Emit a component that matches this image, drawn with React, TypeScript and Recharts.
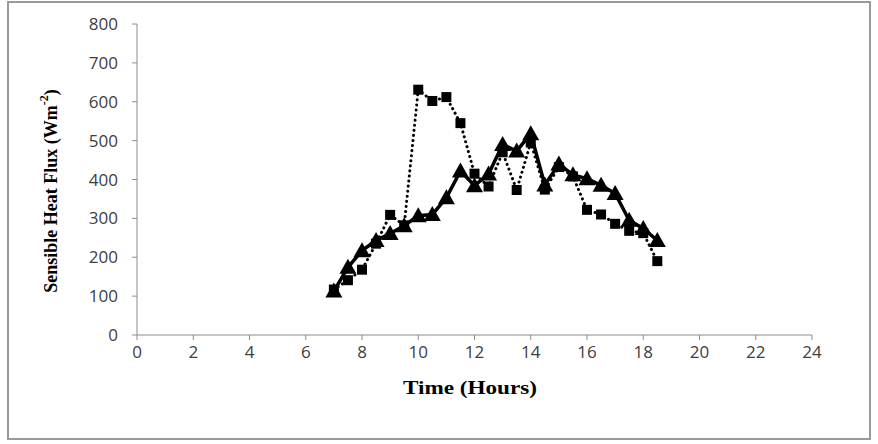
import { LineChart, Line, XAxis, YAxis, Label } from "recharts"

const hours = [7, 7.5, 8, 8.5, 9, 9.5, 10, 10.5, 11, 11.5, 12, 12.5, 13, 13.5, 14, 14.5, 15, 15.5, 16, 16.5, 17, 17.5, 18, 18.5]
const squareSeries = [117, 141, 168, 235, 309, 282, 631, 602, 612, 545, 415, 382, 470, 373, 495, 374, 432, 408, 322, 310, 286, 268, 262, 190]
const triangleSeries = [113, 174, 217, 243, 261, 281, 307, 310, 353, 422, 384, 414, 490, 473, 518, 386, 440, 412, 402, 385, 364, 295, 274, 243]
const xTicks = [0, 2, 4, 6, 8, 10, 12, 14, 16, 18, 20, 22, 24]
const yTicks = [0, 100, 200, 300, 400, 500, 600, 700, 800]

const squareData = hours.map((h, i) => ({ h, v: squareSeries[i] }))
const triangleData = hours.map((h, i) => ({ h, v: triangleSeries[i] }))

const AXIS = "#8c8c8c"
const SERIF = "Liberation Serif, serif"
const tickStyle = { fill: "#404040", fontSize: 17, fontFamily: "Open Sans, sans-serif" }

function SquareDot(props: any) {
    const { cx, cy, index } = props
    return <rect key={`sq-${index}`} x={cx - 5} y={cy - 5} width={10} height={10} fill="#000" />
}

function TriangleDot(props: any) {
    const { cx, cy, index } = props
    return (
        <polygon
            key={`tr-${index}`}
            points={`${cx},${cy - 8.5} ${cx - 8.5},${cy + 6.5} ${cx + 8.5},${cy + 6.5}`}
            fill="#000"
        />
    )
}

function YTitle() {
    const cx = 51
    const cy = 191
    return (
        <text
            x={cx}
            y={cy}
            transform={`rotate(-90 ${cx} ${cy})`}
            textAnchor="middle"
            dominantBaseline="central"
            fontFamily={SERIF}
            fontWeight="bold"
            fontSize={18}
            fill="#000"
        >
            Sensible Heat Flux (Wm
            <tspan dy={-7} fontSize={12}>-2</tspan>
            <tspan dy={7}>)</tspan>
        </text>
    )
}

function XTitle() {
    return (
        <text
            x={470}
            y={388}
            textAnchor="middle"
            dominantBaseline="central"
            fontFamily={SERIF}
            fontWeight="bold"
            fontSize={18}
            textLength={134}
            lengthAdjust="spacingAndGlyphs"
            fill="#000"
        >
            Time (Hours)
        </text>
    )
}

export default function App() {
    return (
        <div style={{ position: "absolute", left: 0, top: 0, width: 878, height: 444, background: "#fff" }}>
            <div
                style={{
                    position: "absolute",
                    left: 7,
                    top: 1,
                    width: 864,
                    height: 439,
                    border: "2px solid #9a9a9a",
                    boxSizing: "border-box",
                }}
            />
            <LineChart
                width={878}
                height={444}
                margin={{ top: 24, right: 66, bottom: 49, left: 77 }}
                style={{ position: "absolute", left: 0, top: 0 }}
            >
                <XAxis
                    type="number"
                    dataKey="h"
                    domain={[0, 24]}
                    ticks={xTicks}
                    allowDataOverflow
                    height={60}
                    stroke={AXIS}
                    tickLine={{ stroke: AXIS }}
                    tickSize={5}
                    tickMargin={6}
                    tick={tickStyle}
                >
                    <Label content={<XTitle />} />
                </XAxis>
                <YAxis
                    type="number"
                    domain={[0, 800]}
                    ticks={yTicks}
                    width={60}
                    stroke={AXIS}
                    tickLine={{ stroke: AXIS }}
                    tickSize={5}
                    tickMargin={14}
                    tick={tickStyle}
                >
                    <Label content={<YTitle />} />
                </YAxis>
                <Line
                    data={squareData}
                    dataKey="v"
                    stroke="#000"
                    strokeWidth={3}
                    strokeDasharray="0.1 5"
                    strokeLinecap="round"
                    dot={<SquareDot />}
                    isAnimationActive={false}
                />
                <Line
                    data={triangleData}
                    dataKey="v"
                    stroke="#000"
                    strokeWidth={3.5}
                    dot={<TriangleDot />}
                    isAnimationActive={false}
                />
            </LineChart>
        </div>
    )
}
